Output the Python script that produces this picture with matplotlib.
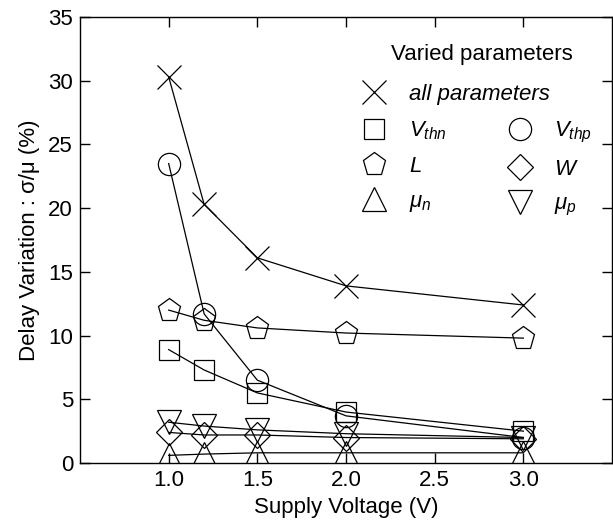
import matplotlib.pyplot as plt
from matplotlib.lines import Line2D

plt.rcParams['font.family'] = ['Liberation Sans', 'DejaVu Sans']
plt.rcParams['mathtext.fontset'] = 'custom'
plt.rcParams['mathtext.it'] = 'Liberation Sans:italic'
plt.rcParams['mathtext.rm'] = 'Liberation Sans'

voltage = [1.0, 1.2, 1.5, 2.0, 3.0]
all_params = [30.3, 20.3, 16.1, 13.9, 12.4]
vthp = [23.5, 11.7, 6.5, 3.7, 2.0]
length = [12.0, 11.2, 10.6, 10.2, 9.8]
vthn = [8.9, 7.3, 5.5, 4.0, 2.5]
mu_p = [3.2, 2.9, 2.6, 2.3, 2.0]
width = [2.4, 2.2, 2.2, 2.0, 1.9]
mu_n = [0.6, 0.7, 0.8, 0.8, 0.8]

series = [
    (all_params, 'x', 'all parameters'),
    (vthn, 's', r'$V_{thn}$'),
    (vthp, 'o', r'$V_{thp}$'),
    (length, 'p', r'$L$'),
    (width, 'D', r'$W$'),
    (mu_n, '^', r'$\mu_n$'),
    (mu_p, 'v', r'$\mu_p$'),
]

fig = plt.figure(figsize=(6.13, 5.20), dpi=100)
ax = fig.add_axes([0.1305, 0.1096, 0.868, 0.8577])

sizes = {'x': 17, 's': 15, 'o': 16, 'p': 17, 'D': 13, '^': 17, 'v': 17}
handles = {}
for vals, mk, lab in series:
    ax.plot(voltage, vals, color='black', lw=0.9)
    ax.plot(voltage, vals, ls='none', marker=mk, ms=sizes[mk], mfc='none',
            mec='black', mew=0.9)
    handles[lab] = Line2D([], [], ls='none', marker=mk, ms=sizes[mk],
                          mfc='none', mec='black', mew=0.9)

ax.set_xlim(0.5, 3.5)
ax.set_ylim(0, 35)
ax.set_xticks([1.0, 1.5, 2.0, 2.5, 3.0])
ax.set_xticklabels(['1.0', '1.5', '2.0', '2.5', '3.0'])
ax.set_yticks([0, 5, 10, 15, 20, 25, 30, 35])
ax.tick_params(direction='in', length=7, width=1, top=True, right=True,
               labelsize=16, pad=5)
for s in ax.spines.values():
    s.set_linewidth(1)
ax.set_xlabel('Supply Voltage (V)', fontsize=16, labelpad=4)
ax.set_ylabel('Delay Variation : σ/μ (%)', fontsize=16, labelpad=6)

ax.text(0.756, 0.917, 'Varied parameters', transform=ax.transAxes,
        ha='center', va='center', fontsize=16)

leg1 = ax.legend([handles['all parameters']], ['all parameters'],
                 frameon=False, loc='upper left',
                 bbox_to_anchor=(0.495, 0.87),
                 prop={'size': 16, 'style': 'italic'},
                 handletextpad=0.55, borderaxespad=0)
ax.add_artist(leg1)

order = [r'$V_{thn}$', r'$L$', r'$\mu_n$', r'$V_{thp}$', r'$W$', r'$\mu_p$']
ax.legend([handles[k] for k in order], order, ncol=2, frameon=False,
          loc='upper left', bbox_to_anchor=(0.495, 0.79),
          prop={'size': 16}, handletextpad=0.55, columnspacing=2.3,
          labelspacing=0.62, borderaxespad=0)

fig.savefig('out.png', dpi=100)
